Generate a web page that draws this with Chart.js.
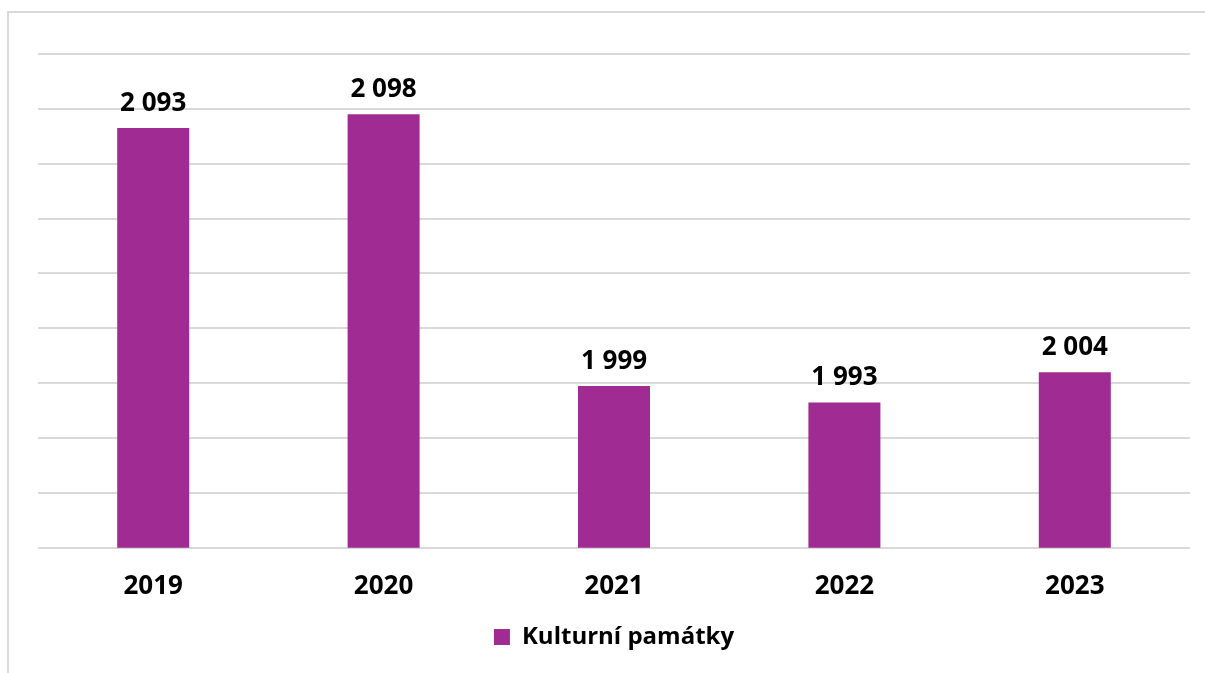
<!DOCTYPE html>
<html>
<head>
<meta charset="utf-8">
<script src="https://cdn.jsdelivr.net/npm/chart.js@4.4.1/dist/chart.umd.min.js"></script>
<style>
  html, body { margin: 0; padding: 0; background: #ffffff; overflow: hidden; }
  #wrap { position: relative; width: 1205px; height: 673px; }
  #frame { position: absolute; left: 7px; top: 11px; width: 1300px; height: 800px;
           border-left: 2px solid #d9d9d9; border-top: 2px solid #d9d9d9; }
  canvas { position: absolute; left: 0; top: 0; }
</style>
</head>
<body>
<div id="wrap">
  <div id="frame"></div>
  <canvas id="chart" width="1205" height="673"></canvas>
</div>
<script>
// Years shown on the category axis
const years = ['2019', '2020', '2021', '2022', '2023'];
// Number of cultural monuments per year
const pamatky = [2093, 2098, 1999, 1993, 2004];
// Value axis range and step
const yMin = 1940;
const yMax = 2120;
const yStep = 20;

const seriesName = 'Kulturní památky';
const barColor = '#a02b93';
const fontFamily = '"Open Sans", "Noto Sans", sans-serif';

// Thousands separated by a space: 2093 -> "2 093"
function fmt(v) {
  return String(v).replace(/\B(?=(\d{3})+(?!\d))/g, ' ');
}

// Value labels above each bar
const valueLabels = {
  id: 'valueLabels',
  afterDatasetsDraw(chart) {
    const ctx = chart.ctx;
    const meta = chart.getDatasetMeta(0);
    ctx.save();
    ctx.font = 'bold 26px ' + fontFamily;
    ctx.fillStyle = '#000000';
    ctx.textAlign = 'center';
    ctx.textBaseline = 'alphabetic';
    meta.data.forEach((bar, i) => {
      ctx.fillText(fmt(chart.data.datasets[0].data[i]), bar.x, bar.y - 17);
    });
    ctx.restore();
  }
};

new Chart(document.getElementById('chart'), {
  type: 'bar',
  data: {
    labels: years,
    datasets: [{
      label: seriesName,
      data: pamatky,
      backgroundColor: barColor,
      borderWidth: 0,
      barPercentage: 0.625,
      categoryPercentage: 0.5
    }]
  },
  options: {
    responsive: false,
    animation: false,
    layout: { padding: { left: 38, right: 15, top: 54, bottom: 14 } },
    scales: {
      x: {
        grid: { display: false, drawTicks: false },
        border: { display: false },
        ticks: {
          color: '#000000',
          padding: 23,
          font: { family: fontFamily, size: 26, weight: 'bold' }
        }
      },
      y: {
        min: yMin,
        max: yMax,
        ticks: { display: false, stepSize: yStep },
        grid: { color: '#d9d9d9', lineWidth: 2, drawTicks: false },
        border: { display: false }
      }
    },
    plugins: {
      legend: {
        position: 'bottom',
        labels: {
          color: '#000000',
          boxWidth: 16,
          boxHeight: 16,
          padding: 0,
          font: { family: fontFamily, size: 24, weight: 'bold' }
        }
      },
      tooltip: { enabled: false }
    }
  },
  plugins: [valueLabels]
});
</script>
</body>
</html>
